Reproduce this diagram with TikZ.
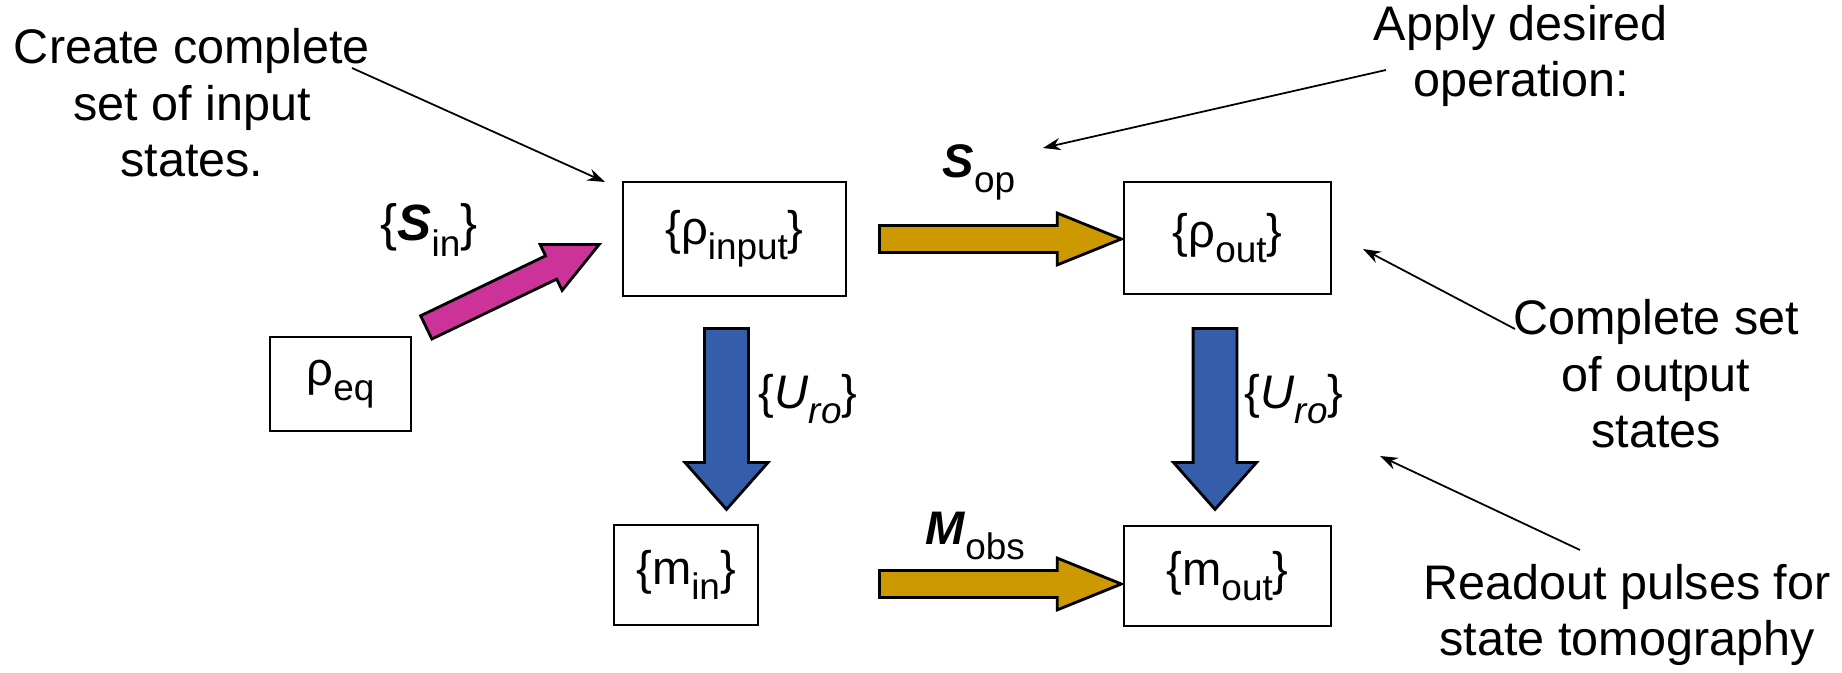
\documentclass[tikz,border=0pt]{standalone}
\usepackage{fontspec}
\setmainfont{Liberation Sans}
\usetikzlibrary{arrows.meta,calc,shapes.arrows}
\definecolor{readblue}{RGB}{52,94,170}
\definecolor{opgold}{RGB}{204,153,0}
\definecolor{prepmag}{RGB}{204,51,153}

% lowered subscript, as in the slide
\newcommand{\lowsub}[1]{\raisebox{-0.6ex}{\fontsize{10.5}{10.5}\selectfont #1}}
% block arrow from one named point to another
\newcommand{\fatarrow}[4]{%
  \path let \p1=(#2), \p2=(#3),
    \n1={atan2(\y2-\y1,\x2-\x1)},
    \n2={veclen(\x2-\x1,\y2-\y1)} in
    node[#4, minimum height=\n2, rotate=\n1, anchor=tail] (#1) at (\p1) {};%
}

\begin{document}
\begin{tikzpicture}[
    x=0.01cm, y=-0.01cm,
    >=Stealth,
    every node/.style={font=\fontsize{13.4}{15.6}\selectfont},
    state/.style={rectangle, draw, line width=0.8pt, inner sep=0pt},
    note/.style={align=center, font=\fontsize{13.8}{16.1}\selectfont},
    pointer/.style={-{Stealth[length=5pt,width=3.5pt]}, line width=0.5pt},
    fatarr/.style={single arrow, draw=black, line width=0.8pt, inner xsep=0pt,
                   minimum width=0pt, single arrow head indent=0pt},
    preparrow/.style={fatarr, fill=prepmag, inner ysep=0.115cm,
                      single arrow head extend=0.125cm, single arrow tip angle=51},
    oparrow/.style={fatarr, fill=opgold, inner ysep=0.12cm,
                    single arrow head extend=0.125cm, single arrow tip angle=44},
    roarrow/.style={fatarr, fill=readblue, inner ysep=0.205cm,
                    single arrow head extend=0.195cm, single arrow tip angle=83},
]
\useasboundingbox (0,0) rectangle (1842,673);

% === State boxes ===
\node[state, minimum width=2.23cm, minimum height=1.14cm] (rhoin) at (734.5,239)
    {\{ρ\lowsub{input}\}};
\node[state, minimum width=2.07cm, minimum height=1.12cm] (rhoout) at (1227.5,238)
    {\{ρ\lowsub{out}\}};
\node[state, minimum width=1.41cm, minimum height=0.94cm] (rhoeq) at (340.5,384)
    {ρ\lowsub{eq}};
\node[state, minimum width=1.44cm, minimum height=1.00cm] (min) at (686,575)
    {\{m\lowsub{in}\}};
\node[state, minimum width=2.07cm, minimum height=1.00cm] (mout) at (1227.5,576)
    {\{m\lowsub{out}\}};

% === Block arrows ===
\coordinate (preptail) at (425,328);
\coordinate (preptip) at (598,245);
\coordinate (optail) at (878,239);
\coordinate (optip) at (1120,239);
\coordinate (obstail) at (878,584);
\coordinate (obstip) at (1120,584);
\coordinate (roin) at (726.5,327);
\coordinate (roinend) at (726.5,508);
\coordinate (roout) at (1215,327);
\coordinate (rooutend) at (1215,508);

\fatarrow{prep}{preptail}{preptip}{preparrow}
\fatarrow{op}{optail}{optip}{oparrow}
\fatarrow{obs}{obstail}{obstip}{oparrow}
\fatarrow{readin}{roin}{roinend}{roarrow}
\fatarrow{readout}{roout}{rooutend}{roarrow}

% arrow labels
\node[font=\fontsize{14.5}{16}\selectfont] (sin) at (429,230)
    {\{\textbf{\textit{S}}\lowsub{in}\}};
\node (sop) at (979,172) {\textbf{\textit{S}}\lowsub{op}};
\node (uroin) at (808,399) {\{\textit{U}\lowsub{\textit{ro}}\}};
\node (uroout) at (1294,399) {\{\textit{U}\lowsub{\textit{ro}}\}};
\node (mobs) at (975,536) {\textbf{\textit{M}}\lowsub{obs}};

% === Comments ===
\node[note] (create) at (192,103) {Create complete\\set of input\\states.};
\node[note] (apply) at (1521,56) {Apply desired\\operation:};
\node[note] (outset) at (1656,374) {Complete set\\of output\\states};
\node[note] (readnote) at (1627,615) {Readout pulses for\\state tomography};

\coordinate (c1) at (352,68);
\coordinate (c1e) at (605,182);
\coordinate (c2) at (1386,70);
\coordinate (c2e) at (1043,148);
\coordinate (c3) at (1515,329);
\coordinate (c3e) at (1363,249);
\coordinate (c4) at (1580,550);
\coordinate (c4e) at (1380,456);

\draw[pointer] (c1) -- (c1e);
\draw[pointer] (c2) -- (c2e);
\draw[pointer] (c3) -- (c3e);
\draw[pointer] (c4) -- (c4e);

\end{tikzpicture}
\end{document}
